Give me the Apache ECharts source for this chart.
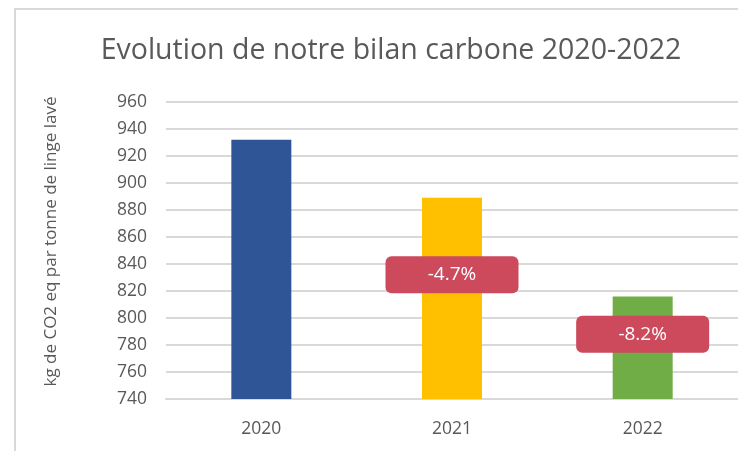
<!DOCTYPE html>
<html><head><meta charset="utf-8">
<script src="https://cdn.jsdelivr.net/npm/echarts@6/dist/echarts.min.js"></script>
<style>html,body{margin:0;padding:0;background:#fff}#c{width:738px;height:451px}</style>
</head><body><div id="c"></div>
<script>
const categories = ['2020', '2021', '2022'];
const values = [932, 889, 816];
const barColors = ['#2F5597', '#FFC000', '#70AD47'];
const changeLabels = [null, '-4.7%', '-8.2%'];
const changeLabelY = [null, 832, 788];
const yTicks = {min: 740, max: 960, interval: 20};

const chart = echarts.init(document.getElementById('c'));
const fontFam = '"Open Sans", sans-serif';
chart.setOption({
  animation: false,
  title: {
    text: 'Evolution de notre bilan carbone 2020-2022',
    left: 386, top: 31, textAlign: 'center',
    textStyle: {fontFamily: fontFam, fontWeight: 'normal', fontSize: 28.5, color: '#595959'}
  },
  graphic: [{type: 'rect', shape: {x: 15, y: 9, width: 800, height: 600}, style: {fill: 'none', stroke: '#d9d9d9', lineWidth: 2}, silent: true}],
  grid: {left: 166, right: 0, top: 102, bottom: 52},
  xAxis: {
    type: 'category', data: categories,
    axisLine: {lineStyle: {color: '#d9d9d9', width: 2}},
    axisTick: {show: false},
    axisLabel: {fontFamily: fontFam, fontSize: 17.5, color: '#595959', margin: 21}
  },
  yAxis: {
    type: 'value', min: yTicks.min, max: yTicks.max, interval: yTicks.interval,
    name: 'kg de CO2 eq par tonne de linge lavé', nameLocation: 'middle', nameGap: 106,
    nameTextStyle: {fontFamily: fontFam, fontSize: 17, color: '#595959', padding: [0, 0, 0, 18]},
    axisLine: {show: false}, axisTick: {show: false},
    axisLabel: {fontFamily: fontFam, fontSize: 17.5, color: '#595959', margin: 19},
    splitLine: {lineStyle: {color: '#d9d9d9', width: 2}}
  },
  series: [{
    type: 'bar', barWidth: 60,
    data: values.map((v, i) => ({value: v, itemStyle: {color: barColors[i]}}))
  }, {
    type: 'scatter', symbolSize: 0, z: 5,
    itemStyle: {opacity: 1},
    data: changeLabelY.map((y, i) => y === null ? null : ({value: [categories[i], y], name: changeLabels[i]})).filter(d => d),
    label: {show: true, position: 'inside', formatter: p => p.name, fontFamily: fontFam, fontSize: 19, color: '#fff', opacity: 1,
      backgroundColor: '#CC4A5C', borderRadius: 6, width: 133, height: 37, lineHeight: 37, align: 'center', verticalAlign: 'middle'}
  }]
});
</script></body></html>
